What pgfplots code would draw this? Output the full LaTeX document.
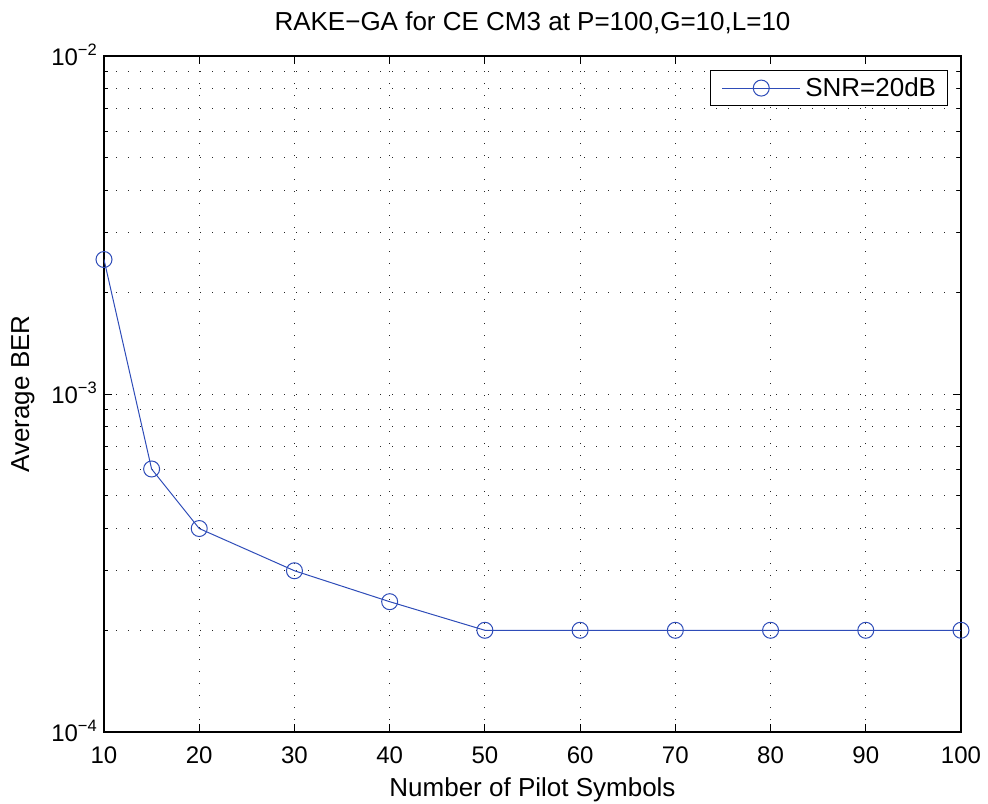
\documentclass[border=0pt]{standalone}
\usepackage{fontspec}
\setmainfont{Liberation Sans}
\usepackage{pgfplots}
\pgfplotsset{compat=1.18}
\definecolor{matblue}{rgb}{0.18,0.30,0.72}
\newcommand{\lbl}{\fontsize{26bp}{30bp}\selectfont}
\newcommand{\tck}{\fontsize{24bp}{28bp}\selectfont}
\newcommand{\tenexp}[1]{10\raisebox{10bp}{\fontsize{16.5bp}{18bp}\selectfont −#1}}
\begin{document}
\begin{tikzpicture}
\begin{axis}[
  scale only axis, width=857bp, height=676bp,
  xmin=10, xmax=100, ymode=log, ymin=1e-4, ymax=1e-2,
  xtick={10,20,30,40,50,60,70,80,90,100},
  xticklabels={10,20,30,40,50,60,70,80,90,100},
  ytick={1e-4,1e-3,1e-2},
  yticklabels={\tenexp{4},\tenexp{3},\tenexp{2}},
  minor ytick={2e-4,3e-4,4e-4,5e-4,6e-4,7e-4,8e-4,9e-4,2e-3,3e-3,4e-3,5e-3,6e-3,7e-3,8e-3,9e-3},
  minor xtick={},
  grid=both,
  major grid style={line width=0.9bp, black!85, dash pattern=on 1.3bp off 10.7bp},
  minor grid style={line width=0.9bp, black!85, dash pattern=on 1.3bp off 10.7bp},
  tick align=inside,
  major tick length=8bp, minor tick length=4bp,
  every tick/.style={black, line width=0.8bp},
  axis line style={line width=1.1bp, black},
  tick label style={font=\tck, inner sep=0pt},
  xticklabel style={anchor=base, yshift=-31bp},
  yticklabel style={anchor=base east, xshift=-7bp, yshift=-9bp},
  title={RAKE−GA for CE CM3 at P=100,G=10,L=10},
  title style={font=\lbl, at={(axis description cs:0.5,1.0286)}, anchor=base, inner sep=0pt},
  xlabel={Number of Pilot Symbols},
  xlabel style={font=\lbl, at={(axis description cs:0.5,-0.0947)}, anchor=base, inner sep=0pt},
  ylabel={Average BER},
  ylabel style={font=\lbl, at={(axis description cs:-0.0875,0.5)}, anchor=base, inner sep=0pt},
  legend style={font=\lbl, at={(axis description cs:0.9848,0.9793)}, anchor=north east,
    draw=black, line width=0.8bp, inner xsep=7bp, inner ysep=3bp,
    nodes={inner sep=4.5bp}},
  legend image code/.code={\path (0bp,0bp); \draw[mark repeat=2,mark phase=2] plot coordinates {(4bp,0bp) (43bp,0bp) (82bp,0bp)};},
]
\addplot[matblue, line width=1bp, mark=o, mark size=8bp, mark options={line width=1bp}] coordinates {
  (10,2.5e-3) (15,6.0e-4) (20,4.0e-4) (30,3.0e-4) (40,2.43e-4)
  (50,2e-4) (60,2e-4) (70,2e-4) (80,2e-4) (90,2e-4) (100,2e-4)
};
\addlegendentry{SNR=20dB}
\end{axis}
\pgfresetboundingbox
\path (-104bp,-72bp) rectangle (884bp,732bp);
\end{tikzpicture}
\end{document}
